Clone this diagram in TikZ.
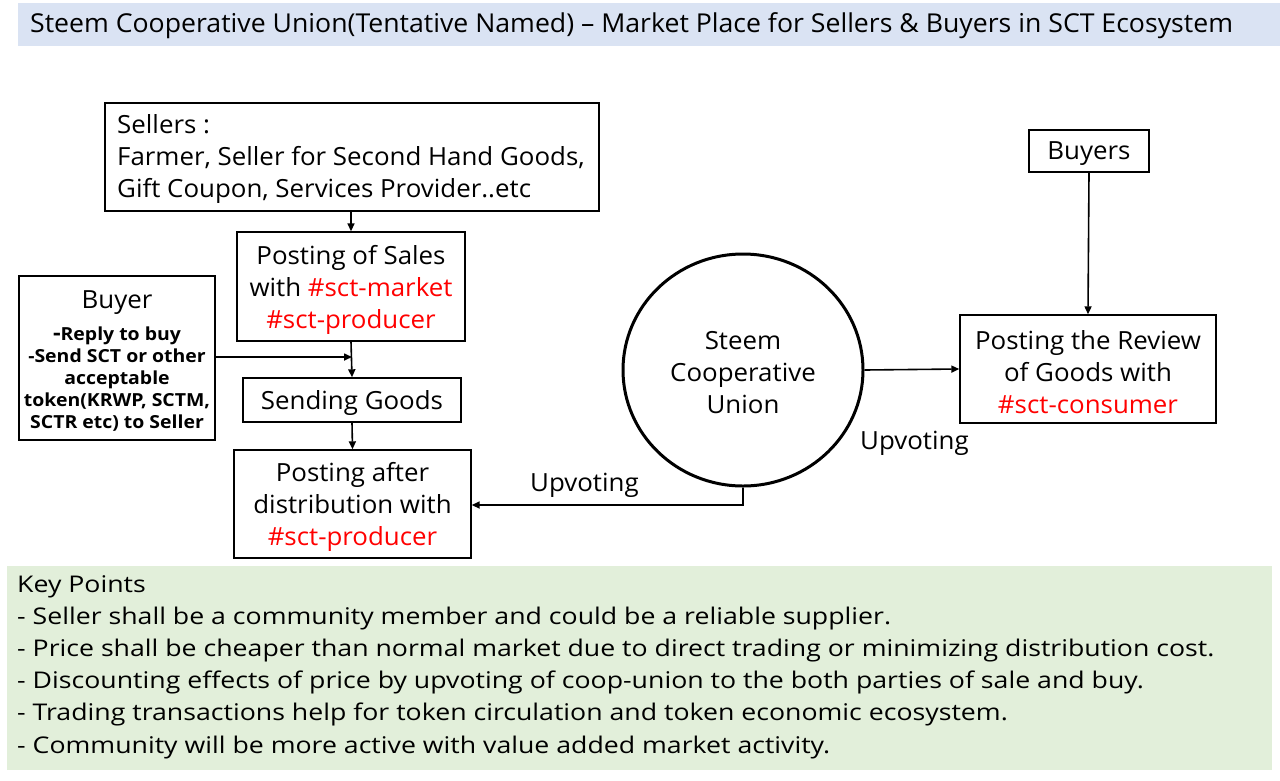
\documentclass[tikz,border=0pt]{standalone}
\usepackage{fontspec}
\setmainfont{Open Sans}[FakeStretch=1.035]
\newfontfamily\keyfont[FakeStretch=1.16]{Open Sans}
\newfontfamily\titlefont[FakeStretch=1.025]{Open Sans}
\newfontfamily\smallbold[FakeStretch=1.08]{Open Sans Bold}
\usetikzlibrary{arrows.meta,shapes.geometric}
\definecolor{titlebg}{HTML}{DAE3F3}
\definecolor{keybg}{HTML}{E2EFDA}
\definecolor{hashred}{HTML}{FF0000}
\tikzset{
  box/.style={draw=black, line width=1.4pt, fill=white, inner sep=0pt},
  conn/.style={line width=1.6pt, -{Triangle[length=8pt,width=7pt]}},
  txt/.style={font=\fontsize{25}{32}\selectfont, align=center, inner sep=0pt},
  lbl/.style={font=\fontsize{25}{32}\selectfont, inner sep=0pt},
}
\newcommand{\hr}[1]{\textcolor{hashred}{#1}}
\begin{document}
\begin{tikzpicture}[x=1pt,y=-1pt]
\useasboundingbox (0,0) rectangle (1280,780);
% title
\fill[titlebg] (18,3) rectangle (1280,46);
\node[anchor=west, inner sep=0pt, font=\titlefont\fontsize{26}{30}\selectfont] (title) at (30,26) {Steem Cooperative Union(Tentative Named) – Market Place for Sellers \& Buyers in SCT Ecosystem};
% sellers
\node[box, minimum width=494pt, minimum height=108pt] (sellers) at (352,157) {};
\node[anchor=north west, inner sep=0pt, align=left, font=\fontsize{25}{32}\selectfont] (sellersT) at (117,114) {Sellers :\\Farmer, Seller for Second Hand Goods,\\Gift Coupon, Services Provider..etc};
% posting of sales
\node[box, minimum width=228pt, minimum height=109pt] (sales) at (351,286.5) {};
\node[txt] (salesT) at ([yshift=-3pt]sales.center) {Posting of Sales\\with \hr{\#sct-market}\\\hr{\#sct-producer}};
% buyer
\node[box, minimum width=196pt, minimum height=164pt] (buyer) at (117,358) {};
\node[lbl] (buyerT) at (117,303) {Buyer};
\node[font=\smallbold\fontsize{18}{22}\selectfont, align=center, inner sep=0pt, anchor=north] (buyerL) at (117,327) {{\fontsize{22}{22}\selectfont -}Reply to buy\\-Send SCT or other\\acceptable\\token(KRWP, SCTM,\\SCTR etc) to Seller};
% sending goods
\node[box, minimum width=218pt, minimum height=44pt] (send) at (352,400) {};
\node[txt] (sendT) at ([yshift=-3pt]send.center) {Sending Goods};
% posting after distribution
\node[box, minimum width=237pt, minimum height=108pt] (after) at (352.5,504) {};
\node[txt] (afterT) at ([yshift=-3pt]after.center) {Posting after\\distribution with\\\hr{\#sct-producer}};
% union
\node[draw, line width=3pt, ellipse, minimum width=240pt, minimum height=232pt] (scu) at (743,370) {};
\node[txt] (scuT) at ([yshift=-3pt]scu.center) {Steem\\Cooperative\\Union};
% buyers
\node[box, minimum width=120pt, minimum height=42pt] (buyers) at (1089,151) {};
\node[txt] (buyersT) at ([yshift=-3pt]buyers.center) {Buyers};
% review
\node[box, minimum width=256pt, minimum height=108pt] (review) at (1088,369) {};
\node[txt] (reviewT) at ([yshift=-3pt]review.center) {Posting the Review\\of Goods with\\\hr{\#sct-consumer}};
% connectors
\draw[conn] (sellers.south -| sales.north) -- (sales.north);
\draw[conn] (sales.south) -- (send.north);
\draw[conn] (buyer.east |- 0,357) -- (352,357);
\draw[conn] (send.south) -- (after.north);
\draw[conn] (scu.south) |- (after.east |- 0,505);
\draw[conn] (scu.east) -- (review.west);
\draw[conn] (buyers.south) -- (review.north);
\node[lbl, anchor=west] (up1) at (530,485) {Upvoting};
\node[lbl, anchor=west] (up2) at (860,443) {Upvoting};
% key points
\fill[keybg] (7,566) rectangle (1272,770);
\node[anchor=north west, inner sep=0pt, align=left, font=\keyfont\fontsize{23}{32.2}\selectfont] (keys) at (17,575) {Key Points\\
- Seller shall be a community member and could be a reliable supplier.\\
- Price shall be cheaper than normal market due to direct trading or minimizing distribution cost.\\
- Discounting effects of price by upvoting of coop-union to the both parties of sale and buy.\\
- Trading transactions help for token circulation and token economic ecosystem.\\
- Community will be more active with value added market activity.};
\end{tikzpicture}
\end{document}
